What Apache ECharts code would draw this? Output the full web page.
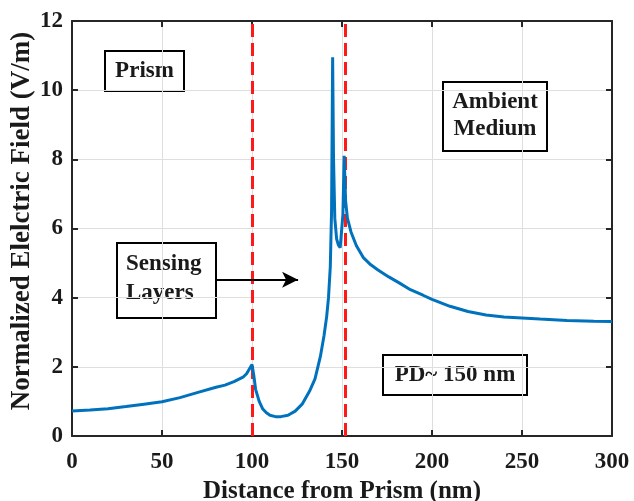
<!DOCTYPE html>
<html>
<head>
<meta charset="utf-8">
<script src="https://cdn.jsdelivr.net/npm/echarts@6/dist/echarts.min.js"></script>
<style>
html,body{margin:0;padding:0;background:#fff;}
#chart{width:634px;height:501px;}
</style>
</head>
<body>
<div id="chart"></div>
<script>
// ---- data ----
var distance = [0, 10, 20, 30, 40, 50, 60, 70, 80, 85, 90, 95, 97, 100, 101, 102, 104, 106, 108, 110, 113, 116, 120, 124, 128, 132, 135, 138, 140, 141.5, 142.5, 143.5, 144.2, 144.8, 145.3, 146, 147, 148, 149, 149.8, 150.5, 151.2, 152, 153, 155, 158, 162, 166, 170, 176, 182, 188, 195, 200, 210, 220, 230, 240, 250, 260, 275, 290, 300];
var field = [0.72, 0.75, 0.79, 0.85, 0.92, 0.99, 1.11, 1.26, 1.41, 1.47, 1.57, 1.70, 1.80, 2.07, 1.75, 1.35, 1.0, 0.78, 0.67, 0.6, 0.56, 0.56, 0.6, 0.72, 0.93, 1.3, 1.65, 2.3, 2.9, 3.46, 4.0, 4.9, 6.5, 10.95, 8.0, 6.3, 5.7, 5.52, 5.45, 5.45, 6.4, 8.1, 6.8, 6.3, 5.9, 5.5, 5.15, 4.95, 4.8, 4.6, 4.42, 4.23, 4.07, 3.95, 3.75, 3.6, 3.5, 3.44, 3.41, 3.38, 3.34, 3.32, 3.31];
var boundaries = [100, 152];
var xTicks = [0, 50, 100, 150, 200, 250, 300];
var yTicks = [0, 2, 4, 6, 8, 10, 12];
var arrowFrom = [80, 4.52];
var arrowTo = [125.6, 4.52];
var xTitle = 'Distance from Prism (nm)';
var yTitle = 'Normalized Elelctric Field (V/m)';

var FONT = '"Liberation Serif", "Times New Roman", serif';
var points = distance.map(function (d, i) { return [d, field[i]]; });

var chart = echarts.init(document.getElementById('chart'), null, {renderer: 'canvas'});

function boxGroup(x, y, w, h, lines, tx, ty0, lh, align) {
  var children = [{
    type: 'rect',
    shape: {x: x, y: y, width: w, height: h},
    style: {fill: '#fff', stroke: '#000', lineWidth: 2}
  }];
  lines.forEach(function (t, i) {
    children.push({
      type: 'text',
      x: tx, y: ty0 + i * lh,
      style: {text: t, font: 'bold 23px ' + FONT, fill: '#1a1a1a', align: align || 'center', verticalAlign: 'middle'}
    });
  });
  return {type: 'group', children: children, z: 100};
}

var axisLineStyle = {color: '#262626', width: 2};

var option = {
  backgroundColor: '#fff',
  animation: false,
  grid: {left: 72, right: 22, top: 21, bottom: 65, containLabel: false, outerBoundsMode: 'none'},
  xAxis: [{
    type: 'value', min: xTicks[0], max: xTicks[xTicks.length - 1], interval: 50,
    name: xTitle, nameLocation: 'middle', nameGap: 42,
    nameTextStyle: {fontFamily: FONT, fontWeight: 'bold', fontSize: 25, color: '#1a1a1a'},
    axisLine: {show: true, onZero: false, lineStyle: axisLineStyle},
    axisTick: {show: true, inside: true, length: 6, lineStyle: axisLineStyle},
    axisLabel: {fontFamily: FONT, fontWeight: 'bold', fontSize: 23, color: '#1a1a1a', margin: 15},
    splitLine: {show: true, lineStyle: {color: '#dedede', width: 1}}
  }, {
    type: 'value', position: 'top', min: xTicks[0], max: xTicks[xTicks.length - 1], interval: 50,
    axisLine: {show: true, onZero: false, lineStyle: axisLineStyle},
    axisTick: {show: true, inside: true, length: 6, lineStyle: axisLineStyle},
    axisLabel: {show: false}, splitLine: {show: false}
  }],
  yAxis: [{
    type: 'value', min: yTicks[0], max: yTicks[yTicks.length - 1], interval: 2,
    axisLine: {show: true, onZero: false, lineStyle: axisLineStyle},
    axisTick: {show: true, inside: true, length: 6, lineStyle: axisLineStyle},
    axisLabel: {fontFamily: FONT, fontWeight: 'bold', fontSize: 23, color: '#1a1a1a', margin: 9},
    splitLine: {show: true, lineStyle: {color: '#dedede', width: 1}}
  }, {
    type: 'value', position: 'right', min: yTicks[0], max: yTicks[yTicks.length - 1], interval: 2,
    axisLine: {show: true, onZero: false, lineStyle: axisLineStyle},
    axisTick: {show: true, inside: true, length: 6, lineStyle: axisLineStyle},
    axisLabel: {show: false}, splitLine: {show: false}
  }],
  series: [{
    type: 'line',
    data: points,
    showSymbol: false,
    smooth: false,
    lineStyle: {color: '#0072BD', width: 3},
    itemStyle: {color: '#0072BD'},
    z: 5,
    markLine: {
      silent: true,
      symbol: ['none', 'none'],
      label: {show: false},
      lineStyle: {color: '#ff1a1a', width: 3, type: [13, 6]},
      data: boundaries.map(function (b) { return {xAxis: b}; })
    }
  }, {
    type: 'line',
    data: [],
    z: 20,
    markLine: {
      silent: true,
      symbol: ['none', 'arrow'],
      symbolSize: [12, 16],
      label: {show: false},
      lineStyle: {color: '#000', width: 2, type: 'solid'},
      data: [[{coord: arrowFrom}, {coord: arrowTo}]]
    }
  }],
  graphic: [
    {
      type: 'text', x: 22, y: 221, rotation: Math.PI / 2, z: 100,
      style: {text: yTitle, font: 'bold 27px ' + FONT, fill: '#1a1a1a', align: 'center', verticalAlign: 'middle'}
    },
    boxGroup(105, 51, 79, 40, ['Prism'], 144.5, 71, 0),
    boxGroup(443, 82, 104, 69, ['Ambient', 'Medium'], 495, 102, 27),
    boxGroup(117, 243, 99, 75, ['Sensing', 'Layers'], 126, 264, 29, 'left'),
    boxGroup(383, 355, 144, 40, ['PD~ 150 nm'], 455, 375, 0)
  ]
};
chart.setOption(option);
</script>
</body>
</html>
